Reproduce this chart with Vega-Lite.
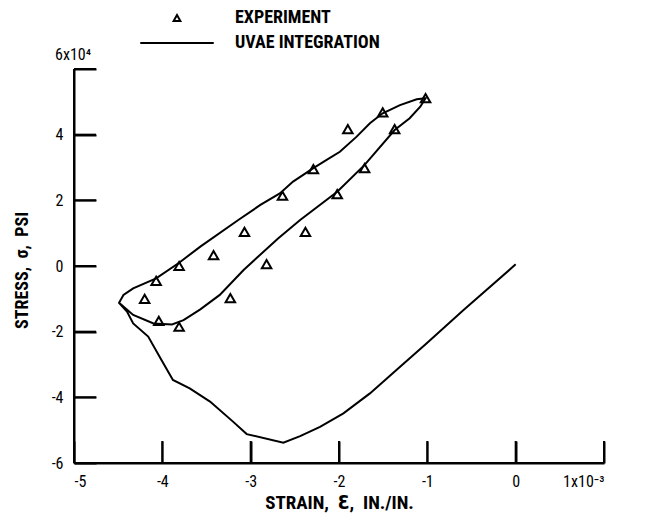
{
  "$schema": "https://vega.github.io/schema/vega-lite/v6.json",
  "width": 530,
  "height": 394,
  "autosize": {"type": "none"},
  "padding": {"left": 74, "top": 69, "right": 46, "bottom": 55},
  "background": "white",
  "config": {
    "view": {"stroke": null},
    "font": "Liberation Sans Narrow, Roboto Condensed, DejaVu Sans Condensed, sans-serif",
    "axis": {
      "domain": true,
      "domainColor": "black",
      "domainWidth": 2,
      "ticks": true,
      "tickColor": "black",
      "tickWidth": 2,
      "tickSize": -22,
      "grid": false,
      "labelColor": "black",
      "labelFontSize": 16,
      "labelFont": "Liberation Sans Narrow, Roboto Condensed, DejaVu Sans Condensed, sans-serif",
      "titleFont": "Liberation Sans Narrow, Roboto Condensed, DejaVu Sans Condensed, sans-serif",
      "titleColor": "black",
      "titleFontSize": 18,
      "titleFontWeight": "bold"
    }
  },
  "datasets": {
    "experiment": [
      {"strain": -3.07, "stress": 1.04, "series": "EXPERIMENT"},
      {"strain": -3.42, "stress": 0.33, "series": "EXPERIMENT"},
      {"strain": -3.81, "stress": 0.0, "series": "EXPERIMENT"},
      {"strain": -2.82, "stress": 0.06, "series": "EXPERIMENT"},
      {"strain": -4.07, "stress": -0.45, "series": "EXPERIMENT"},
      {"strain": -4.2, "stress": -1.0, "series": "EXPERIMENT"},
      {"strain": -3.23, "stress": -0.98, "series": "EXPERIMENT"},
      {"strain": -4.04, "stress": -1.67, "series": "EXPERIMENT"},
      {"strain": -3.81, "stress": -1.85, "series": "EXPERIMENT"},
      {"strain": -1.02, "stress": 5.11, "series": "EXPERIMENT"},
      {"strain": -1.505, "stress": 4.68, "series": "EXPERIMENT"},
      {"strain": -1.9, "stress": 4.17, "series": "EXPERIMENT"},
      {"strain": -1.37, "stress": 4.17, "series": "EXPERIMENT"},
      {"strain": -2.29, "stress": 2.95, "series": "EXPERIMENT"},
      {"strain": -1.71, "stress": 2.98, "series": "EXPERIMENT"},
      {"strain": -2.64, "stress": 2.14, "series": "EXPERIMENT"},
      {"strain": -2.02, "stress": 2.19, "series": "EXPERIMENT"},
      {"strain": -2.38, "stress": 1.04, "series": "EXPERIMENT"}
    ],
    "uvae": [
      {"i": 1, "strain": 0.0, "stress": 0.05, "series": "UVAE INTEGRATION"},
      {"i": 2, "strain": -0.59, "stress": -1.34, "series": "UVAE INTEGRATION"},
      {"i": 3, "strain": -1.01, "stress": -2.36, "series": "UVAE INTEGRATION"},
      {"i": 4, "strain": -1.35, "stress": -3.17, "series": "UVAE INTEGRATION"},
      {"i": 5, "strain": -1.65, "stress": -3.88, "series": "UVAE INTEGRATION"},
      {"i": 6, "strain": -1.95, "stress": -4.49, "series": "UVAE INTEGRATION"},
      {"i": 7, "strain": -2.215, "stress": -4.9, "series": "UVAE INTEGRATION"},
      {"i": 8, "strain": -2.44, "stress": -5.18, "series": "UVAE INTEGRATION"},
      {"i": 9, "strain": -2.63, "stress": -5.38, "series": "UVAE INTEGRATION"},
      {"i": 10, "strain": -3.045, "stress": -5.12, "series": "UVAE INTEGRATION"},
      {"i": 11, "strain": -3.2, "stress": -4.74, "series": "UVAE INTEGRATION"},
      {"i": 12, "strain": -3.46, "stress": -4.13, "series": "UVAE INTEGRATION"},
      {"i": 13, "strain": -3.69, "stress": -3.73, "series": "UVAE INTEGRATION"},
      {"i": 14, "strain": -3.88, "stress": -3.47, "series": "UVAE INTEGRATION"},
      {"i": 15, "strain": -4.01, "stress": -2.86, "series": "UVAE INTEGRATION"},
      {"i": 16, "strain": -4.16, "stress": -2.15, "series": "UVAE INTEGRATION"},
      {"i": 17, "strain": -4.33, "stress": -1.75, "series": "UVAE INTEGRATION"},
      {"i": 18, "strain": -4.4, "stress": -1.39, "series": "UVAE INTEGRATION"},
      {"i": 19, "strain": -4.49, "stress": -1.12, "series": "UVAE INTEGRATION"},
      {"i": 20, "strain": -4.44, "stress": -0.88, "series": "UVAE INTEGRATION"},
      {"i": 21, "strain": -4.33, "stress": -0.68, "series": "UVAE INTEGRATION"},
      {"i": 22, "strain": -4.07, "stress": -0.375, "series": "UVAE INTEGRATION"},
      {"i": 23, "strain": -3.81, "stress": 0.1, "series": "UVAE INTEGRATION"},
      {"i": 24, "strain": -3.57, "stress": 0.59, "series": "UVAE INTEGRATION"},
      {"i": 25, "strain": -3.14, "stress": 1.4, "series": "UVAE INTEGRATION"},
      {"i": 26, "strain": -2.89, "stress": 1.86, "series": "UVAE INTEGRATION"},
      {"i": 27, "strain": -2.67, "stress": 2.21, "series": "UVAE INTEGRATION"},
      {"i": 28, "strain": -2.52, "stress": 2.57, "series": "UVAE INTEGRATION"},
      {"i": 29, "strain": -2.29, "stress": 2.98, "series": "UVAE INTEGRATION"},
      {"i": 30, "strain": -2.14, "stress": 3.23, "series": "UVAE INTEGRATION"},
      {"i": 31, "strain": -1.99, "stress": 3.48, "series": "UVAE INTEGRATION"},
      {"i": 32, "strain": -1.8, "stress": 3.94, "series": "UVAE INTEGRATION"},
      {"i": 33, "strain": -1.65, "stress": 4.35, "series": "UVAE INTEGRATION"},
      {"i": 34, "strain": -1.505, "stress": 4.65, "series": "UVAE INTEGRATION"},
      {"i": 35, "strain": -1.31, "stress": 4.9, "series": "UVAE INTEGRATION"},
      {"i": 36, "strain": -1.12, "stress": 5.08, "series": "UVAE INTEGRATION"},
      {"i": 37, "strain": -1.02, "stress": 5.11, "series": "UVAE INTEGRATION"},
      {"i": 38, "strain": -1.08, "stress": 4.85, "series": "UVAE INTEGRATION"},
      {"i": 39, "strain": -1.2, "stress": 4.5, "series": "UVAE INTEGRATION"},
      {"i": 40, "strain": -1.37, "stress": 4.14, "series": "UVAE INTEGRATION"},
      {"i": 41, "strain": -1.71, "stress": 3.08, "series": "UVAE INTEGRATION"},
      {"i": 42, "strain": -2.02, "stress": 2.26, "series": "UVAE INTEGRATION"},
      {"i": 43, "strain": -2.44, "stress": 1.4, "series": "UVAE INTEGRATION"},
      {"i": 44, "strain": -2.69, "stress": 0.84, "series": "UVAE INTEGRATION"},
      {"i": 45, "strain": -3.08, "stress": -0.12, "series": "UVAE INTEGRATION"},
      {"i": 46, "strain": -3.35, "stress": -0.88, "series": "UVAE INTEGRATION"},
      {"i": 47, "strain": -3.57, "stress": -1.32, "series": "UVAE INTEGRATION"},
      {"i": 48, "strain": -3.76, "stress": -1.65, "series": "UVAE INTEGRATION"},
      {"i": 49, "strain": -3.89, "stress": -1.78, "series": "UVAE INTEGRATION"},
      {"i": 50, "strain": -4.1, "stress": -1.75, "series": "UVAE INTEGRATION"},
      {"i": 51, "strain": -4.33, "stress": -1.49, "series": "UVAE INTEGRATION"},
      {"i": 52, "strain": -4.49, "stress": -1.12, "series": "UVAE INTEGRATION"}
    ],
    "xticks": [{"t": -4}, {"t": -3}, {"t": -2}, {"t": -1}, {"t": 0}, {"t": 1}],
    "yticks": [{"t": -4}, {"t": -2}, {"t": 0}, {"t": 2}, {"t": 4}, {"t": 6}],
    "toplabel": [{"label": "6x10⁴"}]
  },
  "layer": [
    {
      "data": {"name": "uvae"},
      "mark": {"type": "line", "strokeWidth": 2, "interpolate": "linear"},
      "encoding": {
        "x": {
          "field": "strain",
          "type": "quantitative",
          "scale": {"domain": [-5, 1], "nice": false, "zero": false},
          "axis": {
            "values": [-5, -4, -3, -2, -1, 0, 1],
            "labelExpr": "datum.value == 1 ? '1x10⁻³' : datum.value == 0 ? '0' : '-' + abs(datum.value)",
            "labelPadding": 32,
            "titleFontSize": 19,
            "titlePadding": 4
          },
          "title": "STRAIN,\u00a0\u00a0Ɛ,\u00a0\u00a0IN./IN."
        },
        "y": {
          "field": "stress",
          "type": "quantitative",
          "scale": {"domain": [-6, 6], "nice": false, "zero": false},
          "axis": {
            "values": [-6, -4, -2, 0, 2, 4, 6],
            "labelExpr": "datum.value == 6 ? '' : datum.value == 0 ? '0' : datum.value < 0 ? '-' + abs(datum.value) : '' + datum.value",
            "labelPadding": 33,
            "titleX": -52,
            "titleY": 201,
            "titleBaseline": "middle",
            "titleAlign": "center",
            "titleAngle": -90
          },
          "title": "STRESS,\u00a0\u00a0σ,\u00a0\u00a0PSI"
        },
        "color": {
          "field": "series",
          "type": "nominal",
          "scale": {"domain": ["EXPERIMENT", "UVAE INTEGRATION"], "range": ["black", "black"]},
          "legend": {
            "orient": "none",
            "legendX": 94,
            "legendY": -60,
            "title": null,
            "symbolSize": 100,
            "labelOffset": 49,
            "labelFontSize": 18,
            "labelFontWeight": "bold",
            "labelColor": "black",
            "rowPadding": 7,
            "labelFont": "Liberation Sans Narrow, Roboto Condensed, DejaVu Sans Condensed, sans-serif",
            "encode": {
              "symbols": {
                "update": {
                  "shape": {"signal": "datum.label == 'EXPERIMENT' ? 'triangle-up' : 'M-7.35,0H7.35'"},
                  "size": {"signal": "datum.label == 'EXPERIMENT' ? 45 : 100"},
                  "stroke": {"value": "black"},
                  "strokeWidth": {"value": 2},
                  "fill": {"value": "transparent"},
                  "opacity": {"value": 1}
                }
              }
            }
          }
        },
        "order": {"field": "i", "type": "quantitative"}
      }
    },
    {
      "data": {"name": "experiment"},
      "mark": {"type": "point", "shape": "triangle-up", "filled": false, "strokeWidth": 2, "size": 90, "opacity": 1},
      "encoding": {
        "x": {"field": "strain", "type": "quantitative", "title": "STRAIN,\u00a0\u00a0Ɛ,\u00a0\u00a0IN./IN."},
        "y": {"field": "stress", "type": "quantitative", "title": "STRESS,\u00a0\u00a0σ,\u00a0\u00a0PSI"},
        "color": {"field": "series", "type": "nominal"}
      }
    },
    {
      "data": {"name": "xticks"},
      "mark": {"type": "rule", "color": "black", "strokeWidth": 2},
      "encoding": {
        "x": {"field": "t", "type": "quantitative", "title": "STRAIN,\u00a0\u00a0Ɛ,\u00a0\u00a0IN./IN."},
        "y": {"datum": -6},
        "y2": {"datum": -5.33}
      }
    },
    {
      "data": {"name": "yticks"},
      "mark": {"type": "rule", "color": "black", "strokeWidth": 2},
      "encoding": {
        "y": {"field": "t", "type": "quantitative", "title": "STRESS,\u00a0\u00a0σ,\u00a0\u00a0PSI"},
        "x": {"datum": -5},
        "x2": {"datum": -4.75}
      }
    },
    {
      "data": {"name": "toplabel"},
      "mark": {"type": "rule", "color": "black", "strokeWidth": 2},
      "encoding": {
        "x": {"datum": -5},
        "y": {"datum": -6},
        "y2": {"datum": 6}
      }
    },
    {
      "data": {"name": "toplabel"},
      "mark": {"type": "rule", "color": "black", "strokeWidth": 2},
      "encoding": {
        "y": {"datum": -6},
        "x": {"datum": -5},
        "x2": {"datum": 1}
      }
    },
    {
      "data": {"name": "toplabel"},
      "mark": {"type": "text", "align": "left", "baseline": "middle", "dx": -19, "dy": -14, "fontSize": 16, "color": "black"},
      "encoding": {
        "x": {"datum": -5},
        "y": {"datum": 6},
        "text": {"field": "label"}
      }
    }
  ]
}
